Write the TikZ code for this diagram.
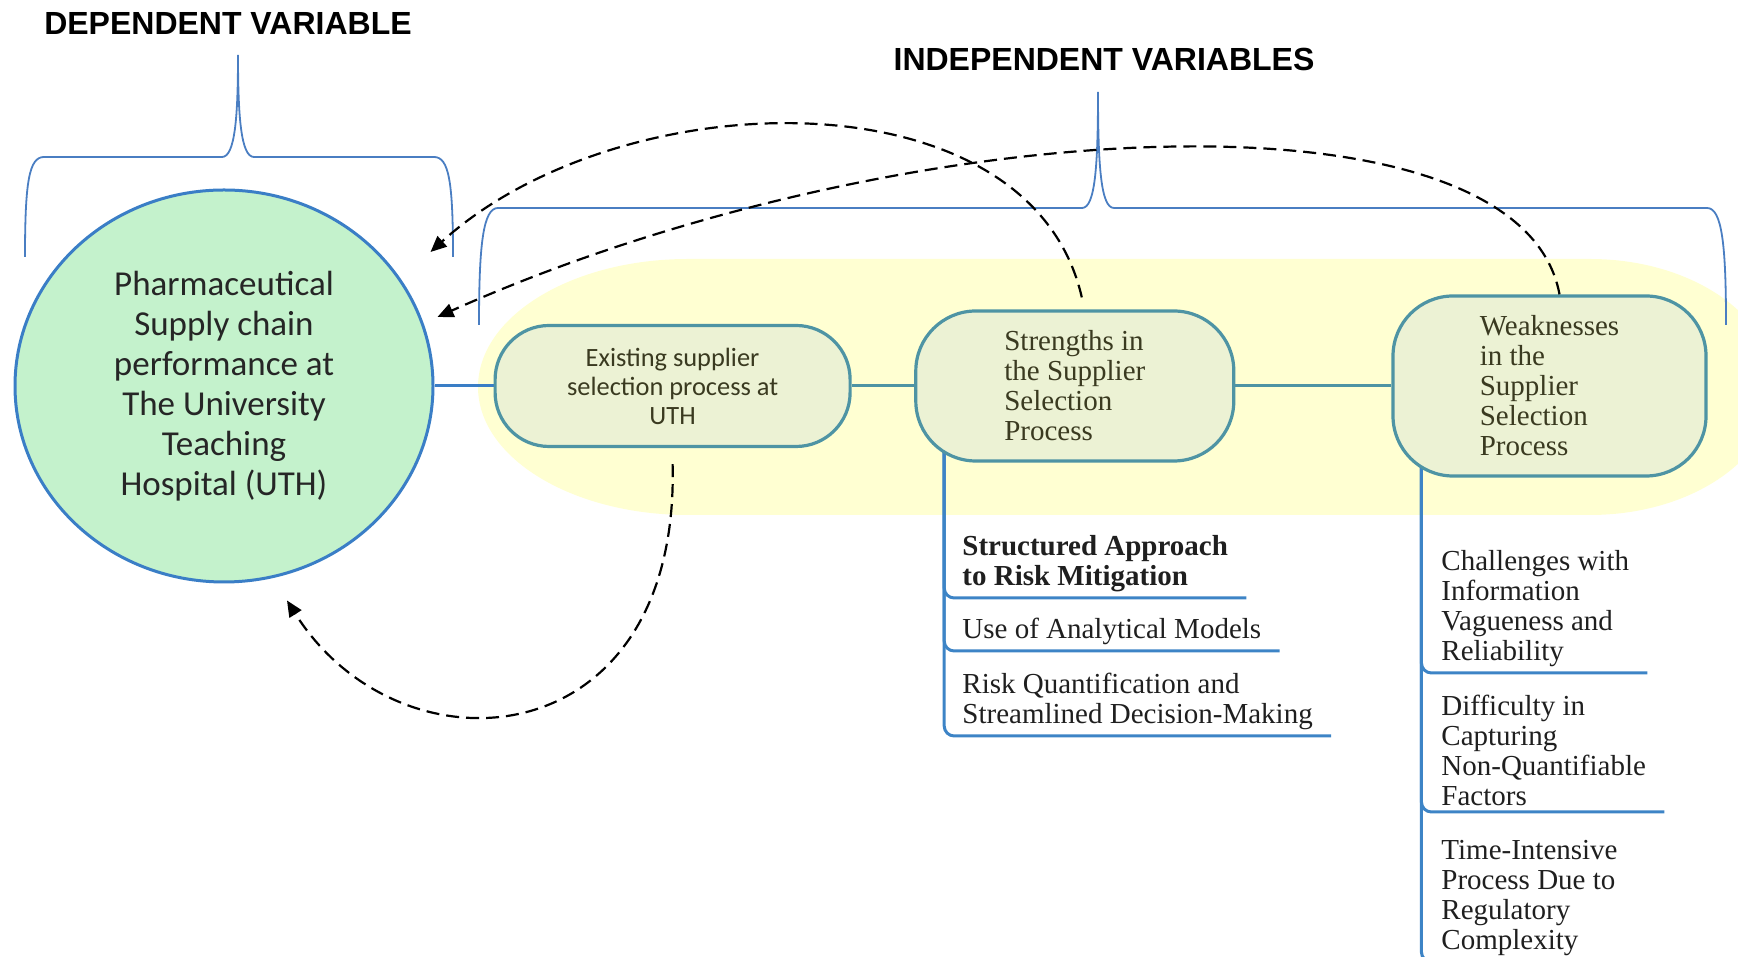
\documentclass[tikz,border=0pt]{standalone}
\usepackage{fontspec}
\usepackage{tikz}
\usetikzlibrary{arrows.meta,positioning,shapes.geometric}
\setmainfont{Liberation Serif}
\newfontfamily\labelsans{Carlito}
\newfontfamily\headsans{Liberation Sans}
\definecolor{hubgreen}{RGB}{196,242,204}
\definecolor{hubblue}{RGB}{58,126,198}
\definecolor{paleyellow}{RGB}{255,255,210}
\definecolor{stagefill}{RGB}{236,242,212}
\definecolor{stageteal}{RGB}{78,148,164}
\definecolor{stagetext}{RGB}{58,58,32}
\definecolor{braceblue}{RGB}{74,126,194}
\definecolor{branchblue}{RGB}{61,132,198}
\pgfdeclarelayer{background}
\pgfsetlayers{background,main}

\begin{document}
\begin{tikzpicture}[
    x=0.5pt, y=0.5pt,
    heading/.style={font=\headsans\bfseries\fontsize{16}{19}\selectfont, inner sep=0pt},
    hub/.style={ellipse, draw=hubblue, line width=1.5pt, fill=hubgreen, align=center, inner sep=0pt, minimum width=209pt, minimum height=196pt, text=black!85, font=\labelsans\fontsize{17.5}{20}\selectfont},
    stage/.style={rectangle, draw=stageteal, line width=1.6pt, fill=stagefill, text=stagetext, rounded corners=30pt},
    item/.style={align=left, inner xsep=9pt, inner ysep=3pt, text=black!88, font=\fontsize{14.5}{15}\selectfont},
    link/.style={draw=stageteal, line width=1.5pt},
    branch/.style={draw=branchblue, line width=1.5pt, rounded corners=5pt},
    bracepath/.style={draw=braceblue, line width=0.9pt},
    feedback/.style={-{Triangle[length=8pt,width=7pt]}, line width=1.1pt, dash pattern=on 6.5pt off 3.5pt}
  ]
    \useasboundingbox (0,0) rectangle (1738,957);

    \begin{pgfonlayer}{background}
      \fill[paleyellow] (688,698) -- (1590,698) arc[start angle=90, end angle=-90, x radius=185, y radius=128]
        -- (688,442) arc[start angle=270, end angle=90, x radius=210, y radius=128] -- cycle;
    \end{pgfonlayer}

    % braces over the two groups
    \draw[bracepath] (25,700) .. controls (25,775) and (29,800) .. (44,800) -- (222,800)
      .. controls (235,800) and (238,840) .. (238,902) .. controls (238,840) and (241,800) .. (254,800)
      -- (434,800) .. controls (449,800) and (453,775) .. (453,700);
    \draw[bracepath] (479,632) .. controls (479,712) and (483,749) .. (498,749) -- (1082,749)
      .. controls (1095,749) and (1098,790) .. (1098,865) .. controls (1098,790) and (1101,749) .. (1114,749)
      -- (1707,749) .. controls (1722,749) and (1726,712) .. (1726,632);

    \node[heading] (depvar) at (228,933) {DEPENDENT VARIABLE};
    \node[heading] (indvar) at (1104,897) {INDEPENDENT VARIABLES};

    \node[hub] (uth) at (224,571) {Pharmaceutical\\Supply chain\\performance at\\The University\\Teaching\\Hospital (UTH)};
    \node[stage, right=29.5pt of uth, minimum width=177.5pt, minimum height=60.5pt, rounded corners=27pt, align=center, font=\labelsans\fontsize{13.2}{14.5}\selectfont] (exist) {Existing supplier\\selection process at\\UTH};
    \node[stage, right=31.25pt of exist, minimum width=159pt, minimum height=75pt, align=left, font=\fontsize{14.5}{15}\selectfont] (strong) {Strengths in\\the Supplier\\Selection\\Process};
    \node[stage, right=78pt of strong, minimum width=156.5pt, minimum height=90pt, align=left, font=\fontsize{14.5}{15}\selectfont] (weak) {Weaknesses\\in the\\Supplier\\Selection\\Process};

    \node[item, anchor=south west] (s1) at (944,359) {\textbf{Structured Approach}\\\textbf{to Risk Mitigation}};
    \node[item, anchor=south west] (s2) at (944,306) {Use of Analytical Models};
    \node[item, anchor=south west] (s3) at (944,221) {Risk Quantification and\\Streamlined Decision-Making};
    \node[item, anchor=south west] (w1) at (1423,284) {Challenges with\\Information\\Vagueness and\\Reliability};
    \node[item, anchor=south west] (w2) at (1423,145) {Difficulty in\\Capturing\\Non-Quantifiable\\Factors};
    \node[item, anchor=south west] (w3) at (1423,-5) {Time-Intensive\\Process Due to\\Regulatory\\Complexity};

    \begin{pgfonlayer}{background}
      \draw[link, draw=hubblue] (uth) -- (exist);
      \draw[link] (exist) -- (strong);
      \draw[link] (strong) -- (weak);
      \foreach \n in {s1,s2,s3}
        \draw[branch] ([shift={(15pt,10pt)}]strong.south west) |- (\n.south east);
      \foreach \n in {w1,w2,w3}
        \draw[branch] ([shift={(15pt,10pt)}]weak.south west) |- (\n.south east);
    \end{pgfonlayer}

    % feedback into the dependent variable
    \draw[feedback] ([shift={(3.5pt,6pt)}]strong.north) .. controls (1030,887) and (620,877) .. ([shift={(-2pt,67pt)}]uth.east);
    \draw[feedback] ([xshift=5pt]weak.north) .. controls (1520,877) and (900,847) .. ([shift={(1.5pt,34.5pt)}]uth.east);
    \draw[feedback] ([yshift=-8pt]exist.south) .. controls (680,197) and (400,177) .. ([shift={(31.5pt,-8.5pt)}]uth.south);
  \end{tikzpicture}
\end{document}
